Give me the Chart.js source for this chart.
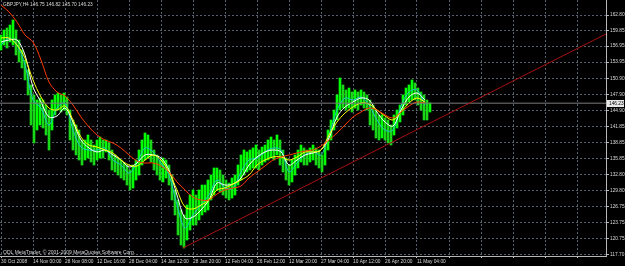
<!DOCTYPE html>
<html>
<head>
<meta charset="utf-8">
<script src="https://cdn.jsdelivr.net/npm/chart.js@4/dist/chart.umd.min.js"></script>
<style>
html,body{margin:0;padding:0;background:#000;overflow:hidden;}
canvas{display:block;}
</style>
</head>
<body>
<canvas id="c" width="625" height="266"></canvas>
<script>
// ---------- DATA ----------
const symbol = 'GBPJPY,H4';
const lastOpen = 146.75, lastHigh = 146.82, lastLow = 145.70, lastClose = 146.23;

const timeLabels = ['30 Oct 2008','14 Nov 00:00','28 Nov 08:00','12 Dec 16:00','28 Dec 04:00','14 Jan 12:00',
  '28 Jan 20:00','12 Feb 04:00','26 Feb 12:00','12 Mar 20:00','27 Mar 04:00','10 Apr 12:00','26 Apr 20:00','11 May 04:00'];
const barsPerLabel = 64;
const totalBars = 1210;

const yTicks = [117.70,120.75,123.75,126.75,129.80,132.80,135.85,138.85,141.85,144.90,147.90,150.90,153.95,156.95,159.85,162.80];

// price bars (high / low), one sample every 6 H4 bars
const barStep = 6;
const barHigh = [159.04,159.98,160.36,160.92,161.86,159.98,158.10,156.22,154.35,152.47,
149.65,147.77,146.83,147.20,146.83,145.89,144.95,146.83,147.77,148.14,
147.77,148.14,147.39,144.95,143.07,142.13,141.19,139.31,139.31,140.25,
139.31,138.37,139.31,139.87,139.31,139.31,138.75,137.43,136.50,135.93,
135.55,134.99,134.61,133.67,134.61,135.55,137.43,139.31,140.62,140.25,
139.31,137.43,136.50,135.55,135.93,135.55,134.61,132.73,129.92,128.04,
126.16,125.22,127.10,128.98,129.92,128.98,129.92,130.85,130.85,131.79,
132.73,134.05,134.05,133.67,132.73,131.79,131.23,132.17,132.73,134.61,
136.50,137.43,137.06,137.43,137.81,138.37,137.43,137.99,138.37,139.31,
139.87,139.31,140.25,139.31,137.43,135.93,134.61,135.55,136.50,137.43,
138.37,137.81,137.43,137.81,138.37,137.81,137.43,136.50,138.37,141.19,
143.07,144.95,147.77,150.97,149.65,148.71,149.08,148.33,148.71,148.33,
148.71,148.33,147.77,146.83,145.89,144.95,144.01,144.01,143.45,143.07,
142.13,144.01,144.95,145.89,147.77,149.08,149.65,150.59,150.03,149.08,
148.33,147.77,146.83,146.26];
const barLow = [156.22,157.16,156.60,157.73,157.16,155.29,153.97,152.85,150.59,147.77,
142.13,138.75,141.19,142.13,141.57,140.25,137.43,141.19,144.01,144.95,
144.57,144.95,144.01,139.31,137.43,136.50,135.55,134.61,135.55,135.93,
135.18,134.61,135.55,135.93,135.93,137.06,135.55,133.67,133.30,132.73,
132.17,131.79,130.85,129.92,130.29,131.79,132.73,134.61,135.55,135.93,
135.18,133.67,132.73,131.79,131.42,132.17,130.85,128.04,125.22,121.46,
119.58,119.02,120.52,122.40,123.34,123.34,124.28,125.22,125.78,126.16,
128.04,128.98,129.92,129.54,128.98,128.41,128.04,128.41,128.98,130.85,
131.79,132.73,133.30,133.67,134.05,134.05,133.67,134.61,135.18,135.55,
135.93,135.55,136.50,134.61,133.30,131.79,130.85,131.42,132.73,134.05,
135.18,134.61,134.61,135.18,135.55,134.61,134.05,133.30,134.61,137.43,
139.31,141.19,143.07,144.95,145.32,144.95,145.32,144.57,145.32,144.95,
145.89,145.32,144.95,142.13,141.19,139.69,139.31,139.69,139.31,138.75,
138.37,140.25,141.57,142.70,144.01,145.89,146.45,146.83,146.83,145.89,
144.95,143.07,143.07,144.57];

// moving averages, one sample every 16 bars
const maStep = 16;
const maCyan = [157.16,158.48,157.16,153.41,146.83,145.32,142.13,145.32,146.26,141.19,
137.99,137.43,137.43,137.81,135.55,134.61,133.11,134.99,137.81,137.06,
134.99,132.73,127.10,122.78,125.22,127.10,128.98,131.79,130.29,130.29,
133.30,135.55,135.93,137.06,137.81,137.43,133.30,134.99,136.50,137.06,
136.50,140.25,144.95,147.20,146.83,147.39,145.89,143.07,141.19,141.19,
145.70,148.33,148.71,145.89];
const maWhite = [157.73,158.10,158.10,155.29,149.27,146.45,143.63,143.82,145.32,142.70,
139.31,137.81,137.06,137.43,136.50,135.55,134.24,134.99,136.50,136.50,
135.93,133.67,128.98,124.65,124.84,126.16,128.04,131.23,130.85,131.04,
132.17,134.61,136.12,137.06,137.43,137.06,134.61,135.55,136.50,136.87,
137.43,139.69,143.63,145.51,146.45,147.20,146.83,144.57,142.70,141.94,
144.95,147.39,148.14,146.83];
const maYellow = [158.48,158.48,157.16,154.72,150.59,147.39,145.32,144.95,145.70,143.07,
139.87,138.37,137.99,137.43,136.87,135.55,134.61,134.43,135.55,136.50,
135.55,133.30,129.92,126.72,126.35,127.10,128.04,129.92,130.29,131.04,
131.79,132.73,134.61,135.55,136.12,136.12,135.55,136.12,137.06,137.06,
137.43,140.25,142.70,144.38,145.51,146.26,146.08,144.95,143.82,143.07,
144.57,146.26,147.20,146.45];
const maRed = [164.68,163.37,161.49,159.04,157.73,154.35,150.21,148.33,147.58,145.89,
143.63,141.75,140.25,139.31,138.75,137.81,136.50,135.37,134.99,134.99,
134.43,133.30,131.42,129.92,128.60,128.04,128.04,129.16,129.92,130.29,
130.67,132.17,133.30,134.43,135.55,136.12,136.50,136.87,137.24,137.43,
138.18,139.31,140.62,142.13,143.63,144.57,145.32,144.95,144.01,143.45,
144.57,145.70,146.45,146.26];

// trend line anchors (bar index, price)
const trendBars = [364, 1210];
const trendPrices = [119.02, 159.23];

// ---------- CHART ----------
const FONT = 'Liberation Sans';
Chart.defaults.font.family = FONT;
const txtColor = '#d8d8d8';
const gridColor = '#56606c';
const frameColor = '#b8b8b8';

const barData = barHigh.map((h, i) => ({x: i * barStep, y: [barLow[i], h]}));
const barColors = barHigh.map((h, i) => {
  if (i === 0) return '#00ff00';
  const m = (h + barLow[i]) / 2, pm = (barHigh[i-1] + barLow[i-1]) / 2;
  return m >= pm ? '#00ff00' : '#18d818';
});
const maData = arr => arr.map((v, i) => ({x: i * maStep, y: v}));
const gridBars = [];
for (let b = 0; b <= totalBars; b += barsPerLabel) gridBars.push(b);

const lineDs = (data, color, order) => ({
  type: 'line', data, borderColor: color, borderWidth: 1, pointRadius: 0,
  tension: 0.35, order, fill: false
});

const overlay = {
  id: 'overlay',
  beforeDraw(chart) {
    const c = chart.ctx;
    c.save(); c.fillStyle = '#000'; c.fillRect(0, 0, chart.width, chart.height); c.restore();
  },
  afterDraw(chart) {
    const c = chart.ctx;
    const ys = chart.scales.y;
    c.save();
    c.fillStyle = txtColor;
    c.textBaseline = 'middle';
    c.textAlign = 'left';
    c.font = '4.8px "' + FONT + '"';
    c.fillText(symbol + ' ' + [lastOpen, lastHigh, lastLow, lastClose].map(v => v.toFixed(2)).join(' '), 3, 5);
    c.font = '5px "' + FONT + '"';
    c.fillText('ODL MetaTrader, \u00A9 2001-2009 MetaQuotes Software Corp.', 3, 252.5);
    // current price label
    const py = Math.round(ys.getPixelForValue(lastClose)) + 0.5;
    const x0 = chart.chartArea.right + 1;
    c.fillStyle = '#e8e8e8';
    c.fillRect(x0, py - 3.5, 17, 7);
    c.fillStyle = '#000';
    c.font = '4.8px "' + FONT + '"';
    c.fillText(lastClose.toFixed(2), x0 + 2, py);
    c.restore();
  }
};

new Chart(document.getElementById('c'), {
  data: {
    datasets: [
      {type: 'bar', data: barData, backgroundColor: barColors, borderWidth: 0,
       barThickness: 2, grouped: false, order: 10},
      lineDs(maData(maCyan), '#1ec4c8', 4),
      lineDs(maData(maWhite), '#ffffff', 3),
      lineDs(maData(maYellow), '#ffff00', 2),
      lineDs(maData(maRed), '#ff3a00', 1),
      {type: 'line', data: trendBars.map((b, i) => ({x: b, y: trendPrices[i]})),
       borderColor: '#a81010', borderWidth: 1, pointRadius: 0, order: 0},
      {type: 'line', data: [{x: -2, y: lastClose}, {x: totalBars, y: lastClose}],
       borderColor: '#7c7c7c', borderWidth: 1, pointRadius: 0, order: 0}
    ]
  },
  options: {
    responsive: false, animation: false, devicePixelRatio: 1,
    layout: {padding: 0},
    plugins: {legend: {display: false}, tooltip: {enabled: false}, title: {display: false}},
    scales: {
      x: {
        type: 'linear', position: 'bottom', min: -2, max: totalBars, offset: false,
        afterBuildTicks: s => { s.ticks = gridBars.map(v => ({value: v})); },
        afterFit: s => { s.height = 10; s.paddingLeft = 0; s.paddingRight = 0; s.paddingTop = 0; s.paddingBottom = 0; },
        ticks: {autoSkip: false, maxRotation: 0, minRotation: 0, align: 'start', padding: 1,
                color: txtColor, font: {size: 4.8},
                callback: (v, i) => timeLabels[i] || ''},
        grid: {color: gridColor, tickLength: 2, tickColor: frameColor, offset: false},
        border: {display: true, color: frameColor, width: 1, dash: [2, 2]}
      },
      y: {
        type: 'linear', position: 'right', min: 117.512, max: 165.62, offset: false,
        afterBuildTicks: s => { s.ticks = yTicks.map(v => ({value: v})); },
        afterFit: s => { s.width = 19; s.paddingLeft = 0; s.paddingRight = 0; s.paddingTop = 0; s.paddingBottom = 0; },
        ticks: {padding: 1, color: txtColor, font: {size: 4.8}, callback: v => v.toFixed(2)},
        grid: {color: gridColor, tickLength: 3, tickColor: frameColor},
        border: {display: true, color: frameColor, width: 1, dash: [2, 2]}
      }
    }
  },
  plugins: [overlay]
});
</script>
</body>
</html>
